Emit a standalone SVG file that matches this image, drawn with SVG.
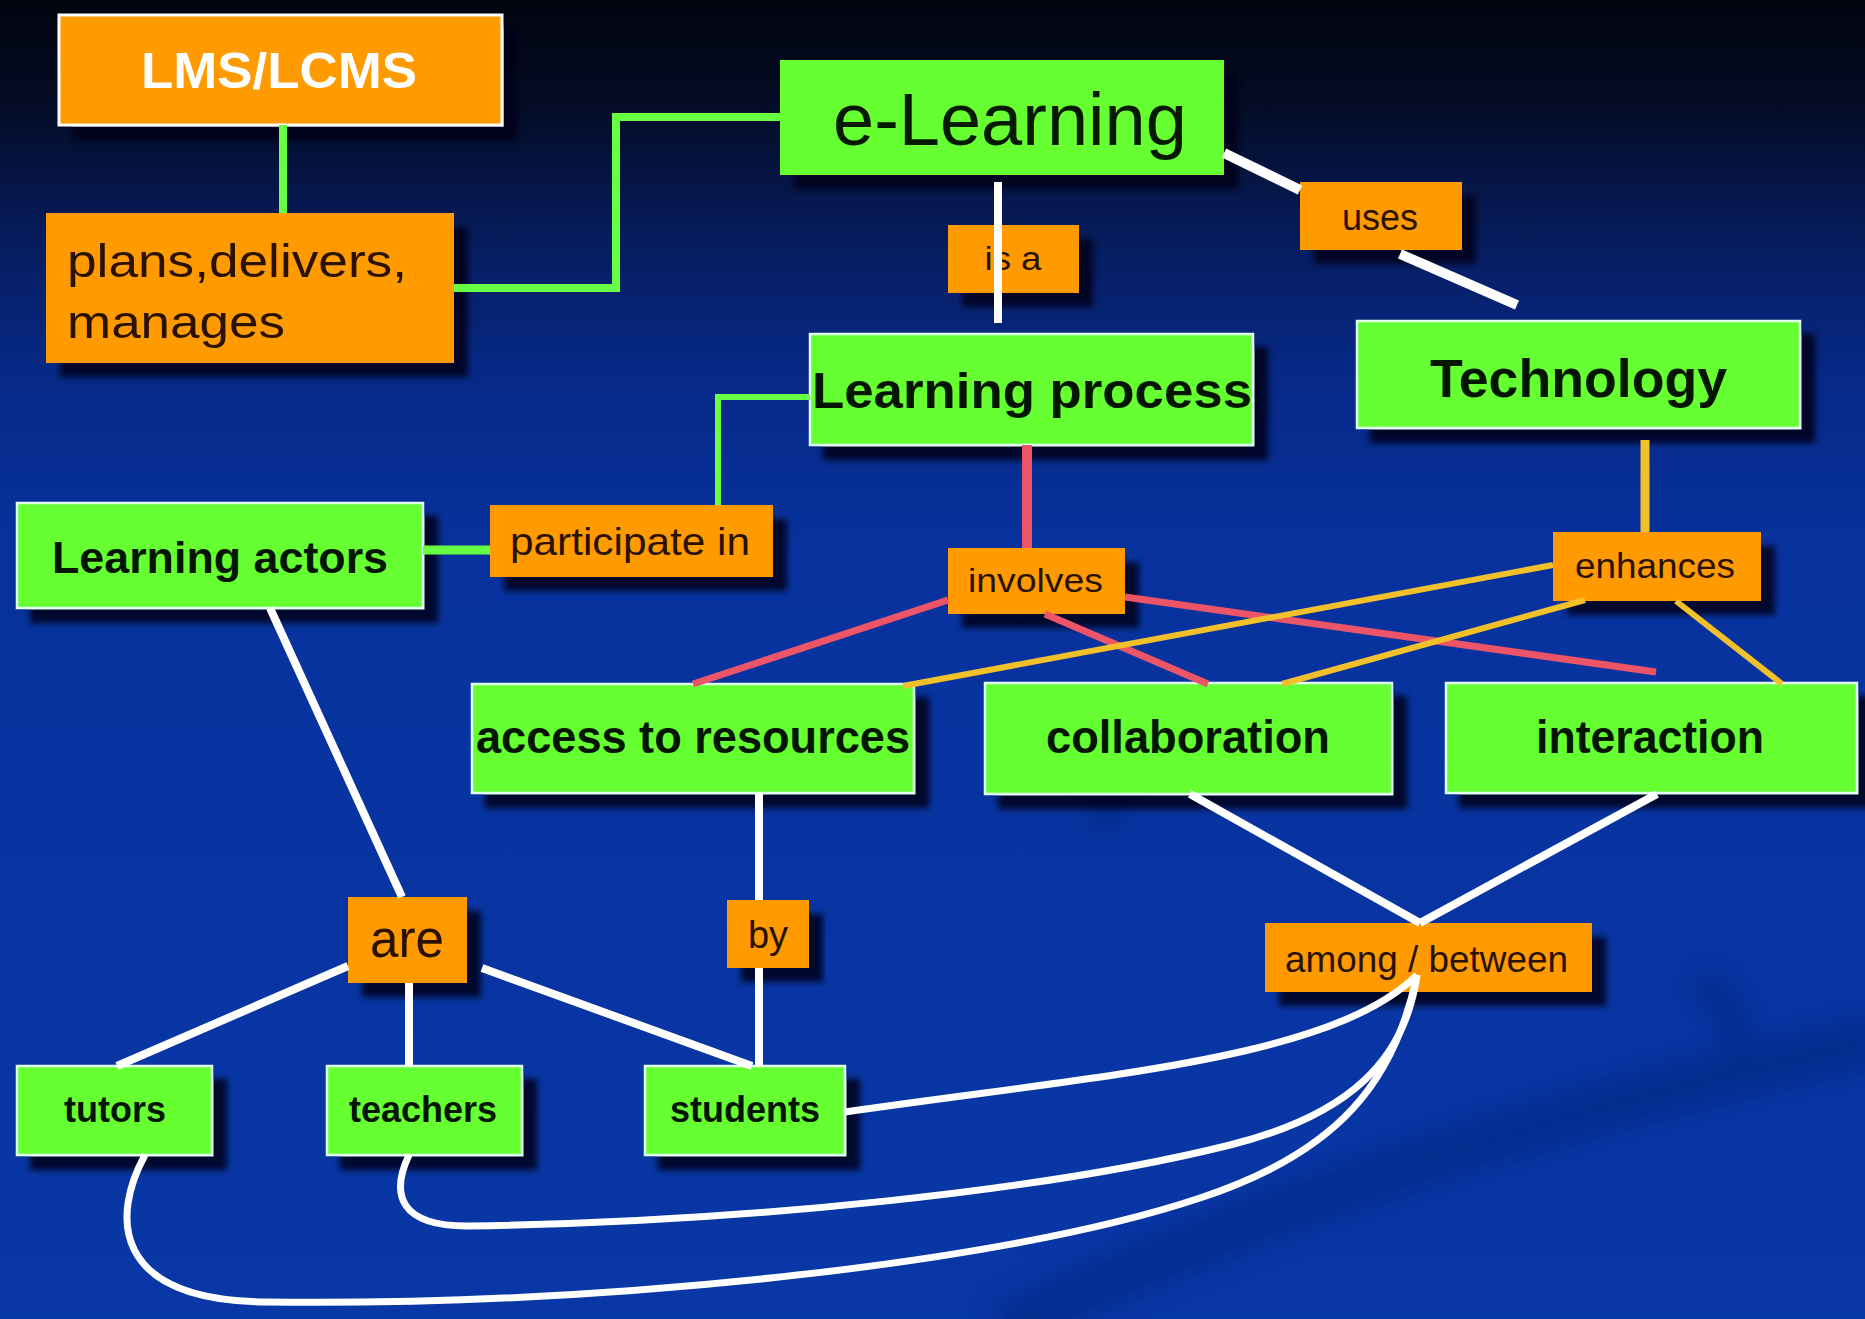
<svg xmlns="http://www.w3.org/2000/svg" width="1865" height="1319" viewBox="0 0 1865 1319">
<defs>
<linearGradient id="bg" x1="0" y1="0" x2="0" y2="1">
<stop offset="0" stop-color="#02050f"/>
<stop offset="0.08" stop-color="#040c26"/>
<stop offset="0.18" stop-color="#061c5c"/>
<stop offset="0.28" stop-color="#072886"/>
<stop offset="0.42" stop-color="#07329e"/>
<stop offset="1" stop-color="#0837a6"/>
</linearGradient>
<filter id="sh" x="-10%" y="-10%" width="130%" height="140%">
<feDropShadow dx="14" dy="14" stdDeviation="3" flood-color="#000618" flood-opacity="0.85"/>
</filter>
<filter id="blur" x="-20%" y="-20%" width="140%" height="140%">
<feGaussianBlur stdDeviation="12"/>
</filter>
<style>
.ob{fill:#ff9a00;filter:url(#sh)}
.gb{fill:#66ff33;stroke:#e0fff0;stroke-width:2.5;filter:url(#sh)}
.t{font-family:"Liberation Sans",Arial,Helvetica,sans-serif}
.tg{fill:#041600;font-weight:bold}
.to{fill:#2a1200}
.c{fill:none;stroke-linecap:butt;stroke-linejoin:miter}
.cg{stroke:#66ff44;stroke-width:8}
.cw{stroke:#ffffff;stroke-width:8}
.cr{stroke:#ec5468;stroke-width:7}
.cy{stroke:#f2c02a;stroke-width:6}
</style>
</defs>
<rect x="0" y="0" width="1865" height="1319" fill="url(#bg)"/>
<g opacity="0.35" filter="url(#blur)" fill="none" stroke="#021a6a">
<path d="M1000 1330 Q1400 1140 1880 1040" stroke-width="50"/>
<path d="M1110 830 Q1090 760 1180 730" stroke-width="30"/>
<path d="M1700 980 Q1760 1030 1720 1090" stroke-width="30"/>
</g>

<g id="nodes">
<g id="n-lms"><rect class="ob" x="59" y="15" width="443" height="110" stroke="#ffffff" stroke-width="3"/><text class="t" x="279" y="88" text-anchor="middle" font-size="50" font-weight="bold" fill="#ffffff" textLength="276" lengthAdjust="spacingAndGlyphs">LMS/LCMS</text></g>
<g id="n-plans"><rect class="ob" x="46" y="213" width="408" height="150"/><text class="t to" x="67" y="277" font-size="46" textLength="340" lengthAdjust="spacingAndGlyphs">plans,delivers,</text><text class="t to" x="67" y="338" font-size="46" textLength="218" lengthAdjust="spacingAndGlyphs">manages</text></g>
<g id="n-elearning"><rect class="ob" style="fill:#66ff33" x="780" y="60" width="444" height="115"/><text class="t" x="833" y="145" font-size="74" fill="#061a00">e-Learning</text></g>
<g id="n-isa"><rect class="ob" x="948" y="225" width="131" height="68"/><text class="t to" x="1013" y="270" text-anchor="middle" font-size="34" textLength="57" lengthAdjust="spacingAndGlyphs">is a</text></g>
<g id="n-uses"><rect class="ob" x="1300" y="182" width="162" height="68"/><text class="t to" x="1380" y="230" text-anchor="middle" font-size="36" textLength="76" lengthAdjust="spacingAndGlyphs">uses</text></g>
<g id="n-lp"><rect class="gb" x="810" y="334" width="443" height="111"/><text class="t tg" x="812" y="408" font-size="50" textLength="440" lengthAdjust="spacingAndGlyphs">Learning process</text></g>
<g id="n-tech"><rect class="gb" x="1357" y="321" width="443" height="107"/><text class="t tg" x="1430" y="397" font-size="53" textLength="297" lengthAdjust="spacingAndGlyphs">Technology</text></g>
<g id="n-actors"><rect class="gb" x="17" y="503" width="406" height="105"/><text class="t tg" x="52" y="573" font-size="44" textLength="336" lengthAdjust="spacingAndGlyphs">Learning actors</text></g>
<g id="n-participate"><rect class="ob" x="490" y="505" width="283" height="72"/><text class="t to" x="510" y="555" font-size="39" textLength="240" lengthAdjust="spacingAndGlyphs">participate in</text></g>
<g id="n-involves"><rect class="ob" x="948" y="548" width="177" height="66"/><text class="t to" x="968" y="592" font-size="34" textLength="135" lengthAdjust="spacingAndGlyphs">involves</text></g>
<g id="n-enhances"><rect class="ob" x="1553" y="532" width="208" height="69"/><text class="t to" x="1575" y="578" font-size="35" textLength="160" lengthAdjust="spacingAndGlyphs">enhances</text></g>
<g id="n-access"><rect class="gb" x="472" y="684" width="442" height="109"/><text class="t tg" x="476" y="753" font-size="46" textLength="434" lengthAdjust="spacingAndGlyphs">access to resources</text></g>
<g id="n-collab"><rect class="gb" x="985" y="683" width="407" height="111"/><text class="t tg" x="1046" y="753" font-size="46" textLength="284" lengthAdjust="spacingAndGlyphs">collaboration</text></g>
<g id="n-interaction"><rect class="gb" x="1446" y="683" width="411" height="110"/><text class="t tg" x="1536" y="753" font-size="46" textLength="228" lengthAdjust="spacingAndGlyphs">interaction</text></g>
<g id="n-are"><rect class="ob" x="348" y="897" width="119" height="86"/><text class="t to" x="370" y="957" font-size="54" textLength="74" lengthAdjust="spacingAndGlyphs">are</text></g>
<g id="n-by"><rect class="ob" x="727" y="900" width="82" height="68"/><text class="t to" x="768" y="948" text-anchor="middle" font-size="38">by</text></g>
<g id="n-among"><rect class="ob" x="1265" y="923" width="327" height="69"/><text class="t to" x="1285" y="972" font-size="36" textLength="283" lengthAdjust="spacingAndGlyphs">among / between</text></g>
<g id="n-tutors"><rect class="gb" x="17" y="1066" width="195" height="89"/><text class="t tg" x="115" y="1122" text-anchor="middle" font-size="36">tutors</text></g>
<g id="n-teachers"><rect class="gb" x="327" y="1066" width="195" height="89"/><text class="t tg" x="423" y="1122" text-anchor="middle" font-size="36">teachers</text></g>
<g id="n-students"><rect class="gb" x="645" y="1066" width="200" height="89"/><text class="t tg" x="745" y="1122" text-anchor="middle" font-size="36">students</text></g>
</g>

<g id="connectors">
<path class="c cg" d="M283 125 V213"/>
<path class="c cg" d="M454 288 H616 V117 H780"/>
<path class="c cg" style="stroke-width:6" d="M810 397 H718 V505"/>
<path class="c cg" style="stroke-width:9" d="M423 550 H490"/>
<path class="c cw" d="M998 182 V323"/>
<path class="c cw" style="stroke-width:10" d="M1224 153 L1300 190"/>
<path class="c cw" style="stroke-width:10" d="M1400 254 L1517 305"/>
<path class="c cr" style="stroke-width:10" d="M1027 445 V548"/>
<path class="c cr" d="M948 600 L693 684"/>
<path class="c cr" d="M1045 614 L1208 684"/>
<path class="c cr" d="M1125 597 L1656 672"/>
<path class="c cy" style="stroke-width:9" d="M1645 440 V532"/>
<path class="c cy" d="M1553 565 L903 686"/>
<path class="c cy" d="M1585 600 L1282 684"/>
<path class="c cy" d="M1676 601 L1782 684"/>
<path class="c cw" d="M270 608 L402 897"/>
<path class="c cw" d="M348 966 L117 1066"/>
<path class="c cw" d="M409 983 V1066"/>
<path class="c cw" d="M482 968 L752 1066"/>
<path class="c cw" d="M759 793 V900"/>
<path class="c cw" d="M759 968 V1066"/>
<path class="c cw" d="M1190 794 L1420 923"/>
<path class="c cw" d="M1657 794 L1420 923"/>
<path class="c cw" style="stroke-width:7" d="M845 1112 C1100 1075 1330 1060 1417 975"/>
<path class="c cw" style="stroke-width:7" d="M409 1155 C390 1195 400 1227 470 1226 C750 1222 1050 1190 1230 1145 C1350 1115 1405 1060 1417 975"/>
<path class="c cw" style="stroke-width:7" d="M145 1155 C112 1215 110 1300 265 1302 C600 1306 1000 1265 1200 1198 C1340 1152 1395 1080 1417 975"/>
</g>
</svg>
